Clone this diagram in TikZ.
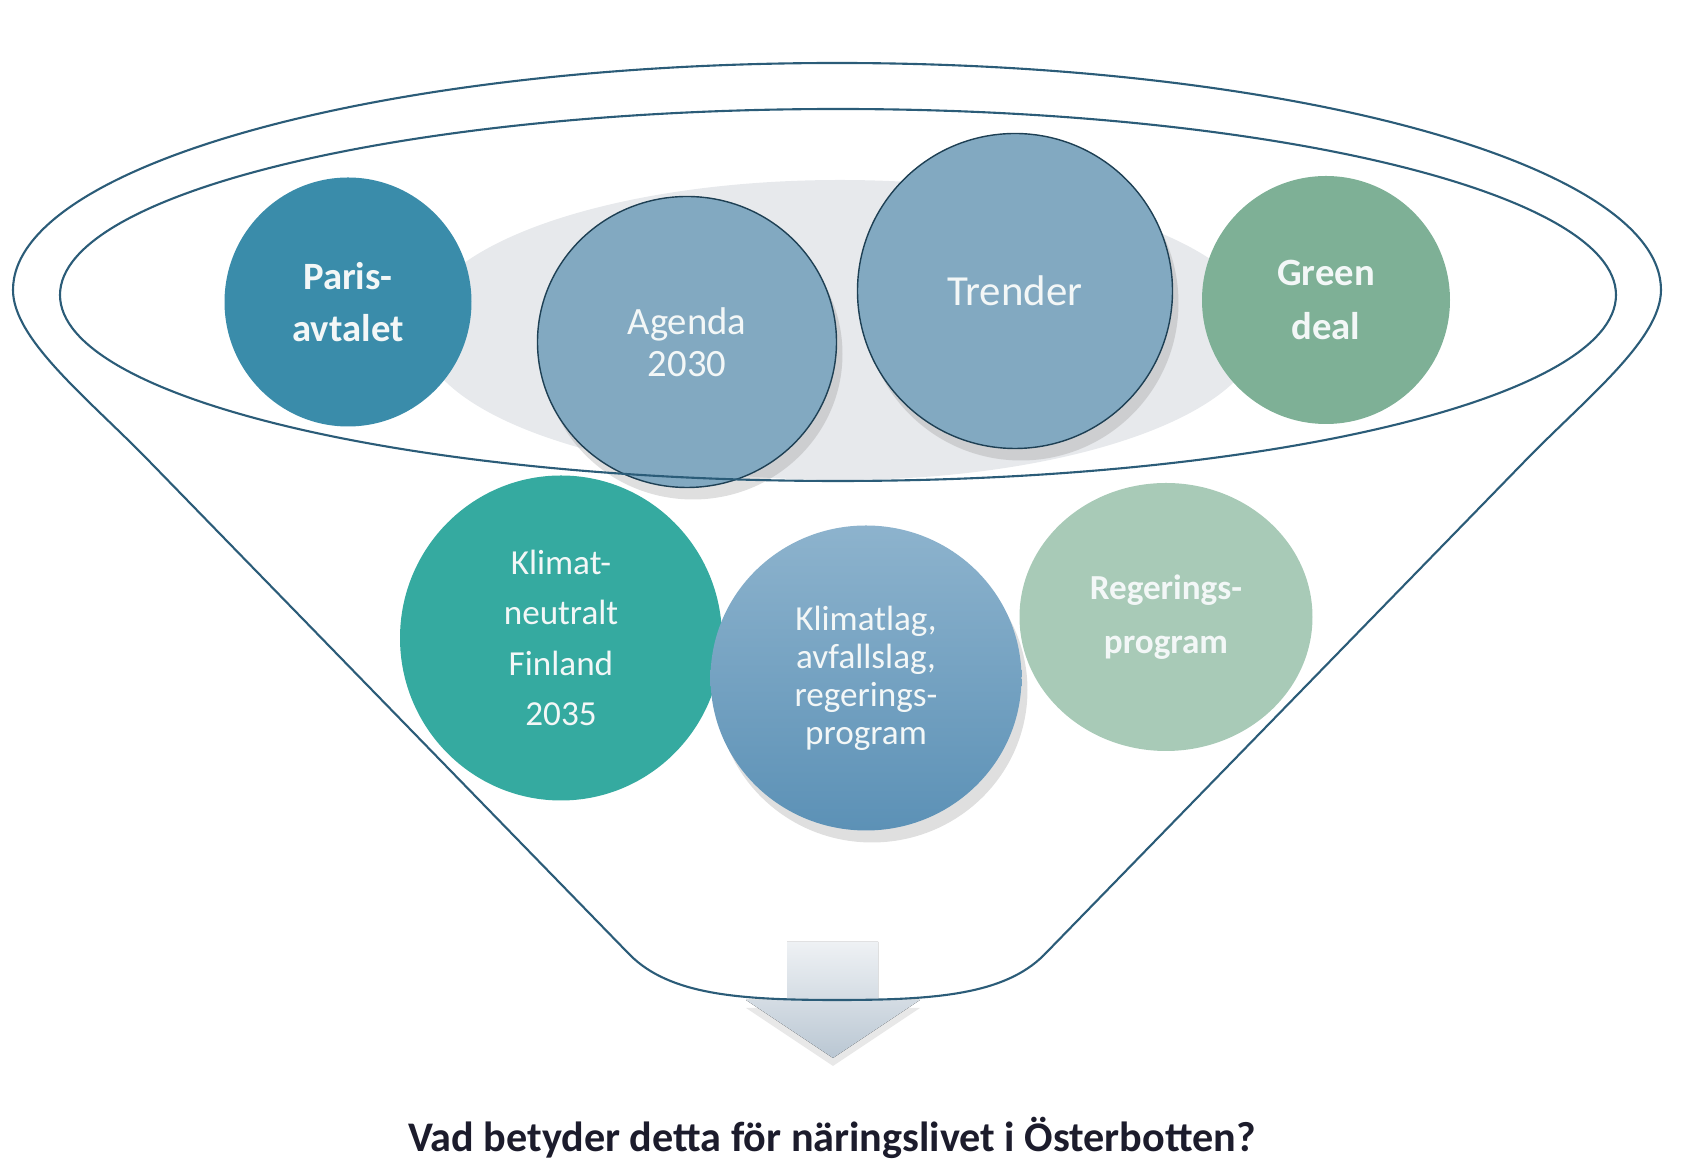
\documentclass[tikz,border=0pt]{standalone}
\usepackage{fontspec}
\setmainfont{Carlito}
\usetikzlibrary{shapes.geometric,shadows}

\definecolor{funnelline}{HTML}{2B5C78}
\definecolor{parisblue}{HTML}{3A8CAA}
\definecolor{agendablue}{HTML}{82A9C1}
\definecolor{greendeal}{HTML}{7EB096}
\definecolor{klimatteal}{HTML}{35AAA0}
\definecolor{lagtop}{HTML}{8DB3CD}
\definecolor{lagbottom}{HTML}{5C91B6}
\definecolor{regering}{HTML}{A8CAB7}
\definecolor{bggray}{HTML}{E7E9EC}
\definecolor{bubbletext}{HTML}{F3F7F7}
\definecolor{questiontext}{HTML}{1C1C2C}
\definecolor{arrowtop}{HTML}{EEF1F4}
\definecolor{arrowbottom}{HTML}{BAC7D3}

\tikzset{
  bubble/.style={ellipse, inner sep=0pt, align=center, text=bubbletext},
  glossy/.style={bubble, draw=funnelline!70!black, line width=0.4pt,
    drop shadow={opacity=0.25, shadow xshift=0.6mm, shadow yshift=-1.2mm}},
  funnel/.style={draw=funnelline, line width=0.6pt},
}

\begin{document}
\begin{tikzpicture}[x=0.1mm, y=-0.1mm]
	\useasboundingbox (0,0) rectangle (1703,1169);
	% grey backdrop behind the upper row
	\node (backdrop) at (840,330) [ellipse, fill=bggray, minimum width=84mm, minimum height=30mm] {};

	% upper row
	\node (paris) at (348,302) [bubble, fill=parisblue, minimum width=24.7mm, minimum height=24.9mm,
		font=\bfseries\fontsize{11}{14.8}\selectfont] {Paris-\\avtalet};
	\node (green) at (1326,300) [bubble, fill=greendeal, minimum size=24.8mm,
		font=\bfseries\fontsize{11}{15.2}\selectfont] {Green\\deal};
	\node (agenda) at (687,342) [glossy, fill=agendablue, minimum width=29.9mm, minimum height=29.1mm,
		font=\fontsize{11}{12}\selectfont] {Agenda\\2030};
	\node (trender) at (1015,291) [glossy, fill=agendablue, minimum size=31.5mm,
		font=\fontsize{12.2}{14}\selectfont] {Trender};

	% lower row
	\node (neutral) at (561,638) [bubble, fill=klimatteal, minimum width=32.2mm, minimum height=32.5mm,
		font=\fontsize{10}{14.4}\selectfont] {Klimat-\\neutralt\\Finland\\2035};
	\node (lagar) at (866,678) [bubble, top color=lagtop, bottom color=lagbottom, minimum width=31.1mm, minimum height=30.5mm,
		drop shadow={opacity=0.25, shadow xshift=0.6mm, shadow yshift=-1.2mm},
		font=\fontsize{10}{10.8}\selectfont] {Klimatlag,\\avfallslag,\\regerings-\\program};
	\node (program) at (1166,617) [bubble, fill=regering, minimum width=29.3mm, minimum height=26.8mm,
		font=\bfseries\fontsize{10}{15.4}\selectfont] {Regerings-\\program};

	% arrow out of the funnel
	\fill[top color=arrowtop, bottom color=arrowbottom, drop shadow={opacity=0.18, shadow xshift=0mm, shadow yshift=-0.8mm}]
		(787,942) -- (878,942) -- (878,1000) -- (920,1000) -- (833,1058) -- (746,1000) -- (787,1000) -- cycle;

	% funnel and inner ring
	\draw[funnel] (13,290) .. controls (13,165) and (382,63) .. (837,63)
		.. controls (1292,63) and (1661,165) .. (1661,290)
		.. controls (1661,340) and (1584,400) .. (1524,462) -- (1044,955)
		.. controls (1004,995) and (934,1000) .. (837,1000)
		.. controls (740,1000) and (670,995) .. (630,955) -- (150,462)
		.. controls (90,400) and (13,340) .. cycle;
	\node (ring) at (838,295) [ellipse, funnel, minimum width=155.6mm, minimum height=37.2mm] {};

	\node (question) at (832,1138) [text=questiontext, font=\bfseries\fontsize{12}{14}\selectfont]
		{Vad betyder detta för näringslivet i Österbotten?};
\end{tikzpicture}
\end{document}
